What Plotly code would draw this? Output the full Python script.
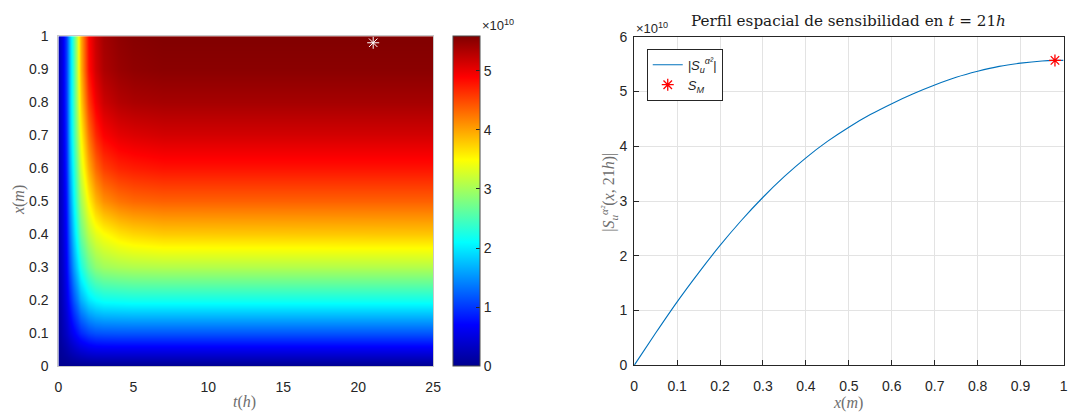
import plotly.graph_objects as go

# ---- data (sensitivity values in units of 1e10) ----
t_hours = [0, 0.25, 0.5, 0.75, 1.0, 1.25, 1.5, 2.0, 2.5, 3.0, 4.0, 5.0, 7.0, 25.0]
x_rows = [0.0, 0.1, 0.2, 0.3, 0.4, 0.5, 0.6, 0.7, 0.8, 0.9, 1.0]
sens_map = [
    [0.00, 0.00, 0.00, 0.00, 0.00, 0.00, 0.00, 0.00, 0.00, 0.00, 0.00, 0.00, 0.00, 0.00],
    [0.07, 0.21, 0.35, 0.49, 0.65, 0.79, 0.90, 1.06, 1.13, 1.15, 1.16, 1.16, 1.16, 1.16],
    [0.11, 0.31, 0.55, 0.83, 1.14, 1.40, 1.64, 1.95, 2.08, 2.15, 2.17, 2.19, 2.19, 2.19],
    [0.15, 0.37, 0.68, 1.11, 1.54, 1.90, 2.21, 2.64, 2.86, 2.96, 3.02, 3.05, 3.07, 3.07],
    [0.15, 0.42, 0.76, 1.29, 1.82, 2.27, 2.65, 3.11, 3.34, 3.47, 3.62, 3.70, 3.77, 3.79],
    [0.17, 0.44, 0.83, 1.44, 2.04, 2.57, 2.96, 3.52, 3.87, 4.09, 4.24, 4.31, 4.35, 4.35],
    [0.19, 0.48, 0.91, 1.58, 2.20, 2.77, 3.25, 3.92, 4.30, 4.54, 4.68, 4.73, 4.78, 4.78],
    [0.20, 0.51, 0.97, 1.69, 2.36, 2.97, 3.48, 4.25, 4.66, 4.89, 5.02, 5.07, 5.12, 5.12],
    [0.21, 0.54, 1.02, 1.72, 2.42, 3.11, 3.71, 4.56, 4.94, 5.16, 5.29, 5.34, 5.37, 5.37],
    [0.22, 0.55, 1.05, 1.71, 2.43, 3.20, 3.86, 4.80, 5.13, 5.33, 5.44, 5.49, 5.52, 5.52],
    [0.22, 0.56, 1.06, 1.73, 2.45, 3.23, 3.90, 4.85, 5.18, 5.38, 5.49, 5.54, 5.57, 5.57],
]

# spatial profile at t = 21 h
x_profile = [0.0, 0.05, 0.1, 0.15, 0.2, 0.25, 0.3, 0.35, 0.4, 0.45, 0.5,
             0.55, 0.6, 0.65, 0.7, 0.75, 0.8, 0.85, 0.9, 0.95, 0.98, 1.0]
s_profile = [0.0, 0.59, 1.16, 1.69, 2.19, 2.65, 3.07, 3.45, 3.79, 4.09, 4.35,
             4.58, 4.78, 4.96, 5.12, 5.26, 5.37, 5.46, 5.52, 5.56, 5.57, 5.57]

# maximum sensitivity point
t_max = [21.0]
x_max = [0.98]
s_max = [5.57]

t_ticks = [0, 5, 10, 15, 20, 25]
x_ticks_left = [0, 0.1, 0.2, 0.3, 0.4, 0.5, 0.6, 0.7, 0.8, 0.9, 1]
x_ticks_right = [0, 0.1, 0.2, 0.3, 0.4, 0.5, 0.6, 0.7, 0.8, 0.9, 1]
s_ticks = [0, 1, 2, 3, 4, 5, 6]
cbar_ticks = [0, 1, 2, 3, 4, 5]

W, H = 1075, 414
def px_x(p):
    return p / W
def px_y(p):
    return 1 - p / H

jet = [
    [0.0, "rgb(0,0,143)"],
    [0.125, "rgb(0,0,255)"],
    [0.375, "rgb(0,255,255)"],
    [0.625, "rgb(255,255,0)"],
    [0.875, "rgb(255,0,0)"],
    [1.0, "rgb(128,0,0)"],
]

SANS = "Liberation Sans, Arial, sans-serif"
SERIF = "Liberation Serif, Times New Roman, serif"
TICK_FONT = dict(family=SANS, size=14, color="#262626")
LABEL_FONT = dict(family=SERIF, size=16, color="#6e6e6e")

fig = go.Figure()

fig.add_trace(go.Heatmap(
    x=t_hours, y=x_rows, z=sens_map,
    colorscale=jet, zmin=0, zmax=5.58, zsmooth="best",
    xaxis="x", yaxis="y",
    colorbar=dict(
        x=px_x(454), xanchor="left", xpad=0, ypad=0,
        y=px_y(372.7), yanchor="bottom", len=(372.7 - 29.3) / H, lenmode="fraction",
        thickness=27, thicknessmode="pixels",
        outlinewidth=1, outlinecolor="#4d4d4d",
        tickvals=cbar_ticks, ticks="inside", ticklen=4, tickcolor="#262626",
        tickfont=TICK_FONT,
    ),
    showscale=True,
))

fig.add_trace(go.Scatter(
    x=t_max, y=x_max, mode="markers", xaxis="x", yaxis="y",
    marker=dict(symbol="asterisk-open", size=10, color="white", line=dict(color="white", width=1)),
    showlegend=False,
))

fig.add_trace(go.Scatter(
    x=x_profile, y=s_profile, mode="lines", xaxis="x2", yaxis="y2",
    line=dict(color="#0072BD", width=1.1, shape="spline", smoothing=0.6),
    name="<i>|S<sub>u</sub><sup>α²</sup>|</i>",
))

fig.add_trace(go.Scatter(
    x=x_max, y=s_max, mode="markers", xaxis="x2", yaxis="y2",
    marker=dict(symbol="asterisk-open", size=10, color="red", line=dict(color="red", width=1.3)),
    name="<i>S<sub>M</sub></i>",
))

fig.update_layout(
    width=W, height=H,
    margin=dict(l=0, r=0, t=0, b=0),
    paper_bgcolor="white", plot_bgcolor="white",
    xaxis=dict(
        domain=[px_x(55), px_x(434)], range=[0, 25], anchor="y",
        tickvals=t_ticks, tickfont=TICK_FONT, ticks="", ticklabelstandoff=8,
        showgrid=False, zeroline=False,
        showline=True, mirror=True, linecolor="#c8c8c8", linewidth=1,
    ),
    yaxis=dict(
        domain=[px_y(372.7), px_y(29.3)], range=[0, 1], anchor="x",
        tickvals=x_ticks_left, ticktext=[f"{v:g}" for v in x_ticks_left],
        tickfont=TICK_FONT, ticks="", ticklabelstandoff=6,
        showgrid=False, zeroline=False,
        showline=True, mirror=True, linecolor="#c8c8c8", linewidth=1,
    ),
    xaxis2=dict(
        domain=[px_x(637.3), px_x(1071.5)], range=[0, 1], anchor="y2",
        tickvals=x_ticks_right, ticktext=[f"{v:g}" for v in x_ticks_right],
        tickfont=TICK_FONT, ticks="inside", ticklen=5, tickcolor="#262626",
        ticklabelstandoff=8,
        showgrid=True, gridcolor="#e3e3e3", gridwidth=1, zeroline=False,
        showline=True, mirror=True, linecolor="#262626", linewidth=1,
    ),
    yaxis2=dict(
        domain=[px_y(371.7), px_y(30)], range=[0, 6], anchor="x2",
        tickvals=s_ticks, tickfont=TICK_FONT, ticks="inside", ticklen=5, tickcolor="#262626",
        ticklabelstandoff=3,
        showgrid=True, gridcolor="#e3e3e3", gridwidth=1, zeroline=False,
        showline=True, mirror=True, linecolor="#262626", linewidth=1,
    ),
    showlegend=True,
    legend=dict(
        x=px_x(650), y=px_y(42.5), xanchor="left", yanchor="top",
        bgcolor="white", bordercolor="#262626", borderwidth=1,
        font=dict(family=SANS, size=13, color="#262626"),
        itemwidth=30, tracegroupgap=0,
    ),
    annotations=[
        dict(text="×10<sup>10</sup>", x=px_x(481), y=px_y(18), xref="paper", yref="paper",
             xanchor="left", yanchor="middle", showarrow=False,
             font=dict(family=SANS, size=13, color="#262626")),
        dict(text="×10<sup>10</sup>", x=px_x(637), y=px_y(21), xref="paper", yref="paper",
             xanchor="left", yanchor="middle", showarrow=False,
             font=dict(family=SANS, size=13, color="#262626")),
        dict(text="<i>t</i>(<i>h</i>)", x=px_x(243), y=px_y(398), xref="paper", yref="paper",
             xanchor="center", yanchor="top", showarrow=False, font=LABEL_FONT),
        dict(text="<i>x</i>(<i>m</i>)", x=px_x(15), y=px_y(200), xref="paper", yref="paper",
             xanchor="center", yanchor="middle", showarrow=False, textangle=-90, font=LABEL_FONT),
        dict(text="<i>x</i>(<i>m</i>)", x=px_x(854), y=px_y(399), xref="paper", yref="paper",
             xanchor="center", yanchor="top", showarrow=False, font=LABEL_FONT),
        dict(text="|<i>S<sub>u</sub><sup>α²</sup></i>(<i>x</i>, 21<i>h</i>)|", x=px_x(611), y=px_y(192),
             xref="paper", yref="paper", xanchor="center", yanchor="middle", showarrow=False,
             textangle=-90, font=dict(family=SERIF, size=16, color="#6e6e6e")),
        dict(text="Perfil espacial de sensibilidad en <i>t</i> = 21<i>h</i>", x=px_x(854.5), y=px_y(14),
             xref="paper", yref="paper", xanchor="center", yanchor="middle", showarrow=False,
             font=dict(family="DejaVu Serif, serif", size=15.2, color="#1a1a1a")),
    ],
)

fig.write_html("out.html")
